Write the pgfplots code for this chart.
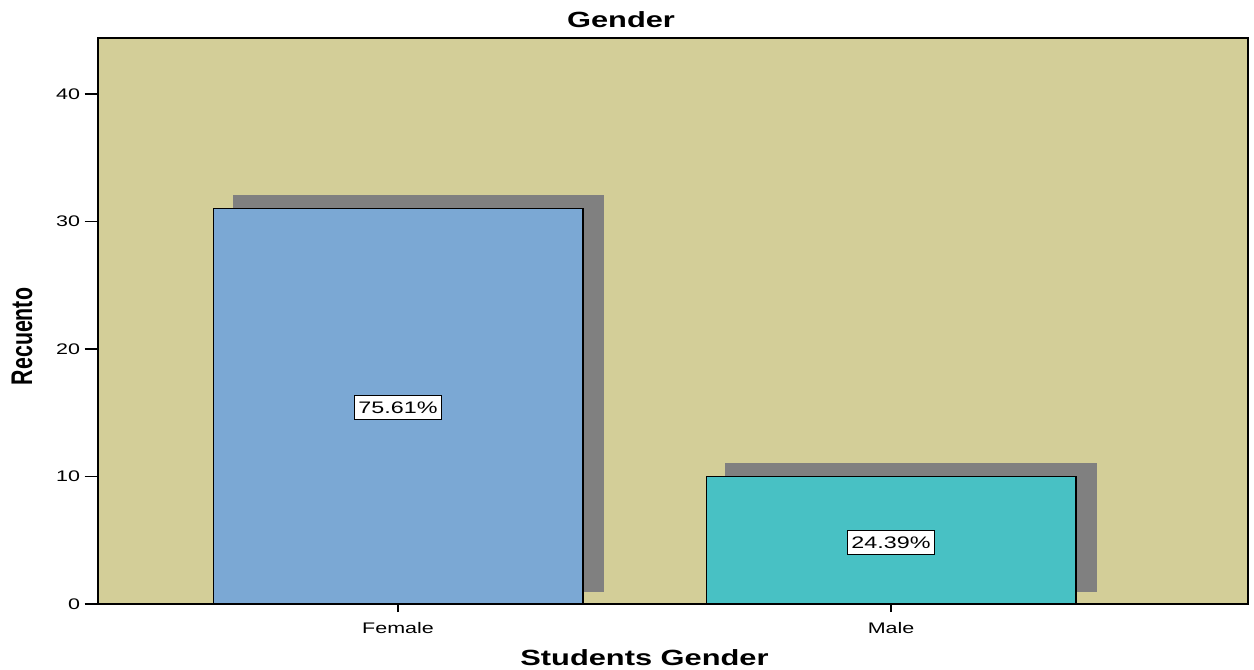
\documentclass[border=0pt]{standalone}
\usepackage{pgfplots}
\pgfplotsset{compat=1.18}
\usepackage{fontspec}
\setmainfont{Liberation Sans}[FakeStretch=1.4]
\newfontfamily\plainfont{Liberation Sans}
\definecolor{bgtan}{RGB}{211,206,152}
\definecolor{fblue}{RGB}{123,168,212}
\definecolor{mteal}{RGB}{72,193,196}
\definecolor{shadowgray}{RGB}{128,128,128}
\begin{document}
\begin{tikzpicture}
\useasboundingbox (-73.5pt,-48.75pt) rectangle (867pt,453pt);
\begin{axis}[
  at={(0,0)}, anchor=south west,
  scale only axis, width=862.5pt, height=424.5pt,
  xmin=-0.6085, xmax=1.724, ymin=0, ymax=44.39,
  axis background/.style={fill=bgtan},
  axis line style={black, line width=1pt},
  xtick={0,1}, xticklabels={Female,Male},
  ytick={0,10,20,30,40},
  tick align=outside, tick pos=left,
  major tick length=10pt,
  tick style={black, line width=1pt},
  xtick style={/pgfplots/major tick length=6pt},
  ticklabel style={font=\fontsize{11.5}{13}\selectfont, text=black},
  /pgf/number format/assume math mode=true,
  title={Gender},
  title style={at={(axis description cs:0.4548,1.0048)}, anchor=base, font=\bfseries\fontsize{16.5}{19}\selectfont},
  xlabel={Students Gender},
  xlabel style={at={(axis description cs:0.4752,-0.1078)}, anchor=base, font=\bfseries\fontsize{16.5}{19}\selectfont},
  ylabel={\scalebox{1}[1.4]{\plainfont\bfseries\fontsize{16}{18}\selectfont Recuento}},
  ylabel style={at={(axis description cs:-0.0661,0.4726)}, anchor=center},
  clip=false,
]
% shadows
\addplot[fill=shadowgray, draw=none] coordinates {(-0.335,0.94) (0.418,0.94) (0.418,32.08) (-0.335,32.08)} -- cycle;
\addplot[fill=shadowgray, draw=none] coordinates {(0.663,0.94) (1.418,0.94) (1.418,11.06) (0.663,11.06)} -- cycle;
% bars
\addplot[ybar, bar width=0.75, fill=fblue, draw=black, line width=0.9pt] coordinates {(0,31)};
\addplot[ybar, bar width=0.75, fill=mteal, draw=black, line width=0.9pt] coordinates {(1,10)};
% percentage labels
\node[draw=black, fill=white, line width=0.7pt, inner xsep=3pt, inner ysep=4.5pt, font=\fontsize{12.5}{14}\selectfont] at (axis cs:0,15.4) {75.61\%};
\node[draw=black, fill=white, line width=0.7pt, inner xsep=3pt, inner ysep=4.5pt, font=\fontsize{12.5}{14}\selectfont] at (axis cs:1,4.8) {24.39\%};
\end{axis}
\end{tikzpicture}
\end{document}
